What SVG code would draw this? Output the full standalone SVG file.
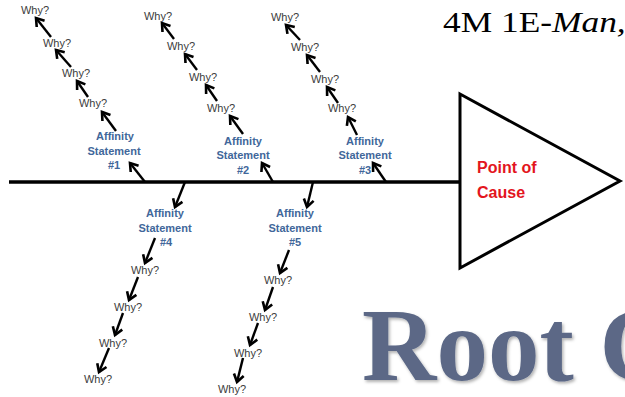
<svg xmlns="http://www.w3.org/2000/svg" width="625" height="397" viewBox="0 0 625 397">
  <defs>
    <marker id="head" markerUnits="userSpaceOnUse" markerWidth="14" markerHeight="14" viewBox="-10 -7 12 14" refX="0" refY="0" orient="auto">
      <path d="M-7.5,-5 L0,0 L-7.5,5" fill="none" stroke="#000" stroke-width="2.6" stroke-linejoin="miter"/>
    </marker>
    <filter id="soft" x="-5%" y="-10%" width="115%" height="130%">
      <feDropShadow dx="1.5" dy="2" stdDeviation="1.5" flood-color="#000" flood-opacity="0.3"/>
    </filter>
  </defs>
  <style>
    .why { font-family: "Liberation Sans", Arial, sans-serif; font-size: 11px; fill: #3c3c3c; text-anchor: middle; }
    .aff { font-family: "Liberation Sans", Arial, sans-serif; font-size: 11px; font-weight: bold; fill: #41679a; text-anchor: middle; }
    .arrow { stroke: #000; stroke-width: 2.4; fill: none; marker-end: url(#head); }
    .spine { stroke: #000; stroke-width: 3.5; fill: none; }
    .head-text { font-family: "Liberation Sans", Arial, sans-serif; font-size: 16px; font-weight: bold; fill: #e3151d; }
  </style>
  <rect width="625" height="397" fill="#fff"/>

  <!-- heading fragment -->
  <text transform="translate(443,32) scale(1.22,1)" font-family="'Liberation Serif', 'Times New Roman', serif" font-size="29" fill="#000">4M 1E-<tspan font-style="italic">Man,</tspan></text>

  <!-- large title -->
  <text x="362" y="380" font-family="'Liberation Serif', 'Times New Roman', serif" font-size="103" font-weight="bold" fill="#5b6886" filter="url(#soft)">Root C</text>

  <!-- connectors -->
  <g id="connectors">
    <line class="spine" x1="9" y1="182" x2="460" y2="182"/>
    <!-- branch 1 -->
    <line class="arrow" x1="145" y1="182" x2="130" y2="163"/>
    <line class="arrow" x1="116" y1="131" x2="102" y2="112"/>
    <line class="arrow" x1="88" y1="97" x2="77" y2="81"/>
    <line class="arrow" x1="71" y1="67" x2="56" y2="50"/>
    <line class="arrow" x1="51" y1="37" x2="36" y2="18"/>
    <!-- branch 2 -->
    <line class="arrow" x1="273" y1="182" x2="262" y2="163"/>
    <line class="arrow" x1="243" y1="134" x2="230" y2="116"/>
    <line class="arrow" x1="217" y1="101" x2="206" y2="85"/>
    <line class="arrow" x1="197" y1="70" x2="185" y2="54"/>
    <line class="arrow" x1="174" y1="39" x2="162" y2="23"/>
    <!-- branch 3 -->
    <line class="arrow" x1="386" y1="182" x2="373" y2="163"/>
    <line class="arrow" x1="357" y1="135" x2="348" y2="117"/>
    <line class="arrow" x1="338" y1="103" x2="327" y2="87"/>
    <line class="arrow" x1="320" y1="72" x2="307" y2="55"/>
    <line class="arrow" x1="300" y1="40" x2="286" y2="25"/>
    <!-- branch 4 -->
    <line class="arrow" x1="185" y1="182" x2="175" y2="207"/>
    <line class="arrow" x1="155" y1="238" x2="145" y2="263"/>
    <line class="arrow" x1="138" y1="277" x2="129" y2="300"/>
    <line class="arrow" x1="123" y1="313" x2="115" y2="335"/>
    <line class="arrow" x1="109" y1="348" x2="99" y2="372"/>
    <!-- branch 5 -->
    <line class="arrow" x1="313" y1="182" x2="307" y2="207"/>
    <line class="arrow" x1="289" y1="250" x2="280" y2="273"/>
    <line class="arrow" x1="273" y1="287" x2="265" y2="310"/>
    <line class="arrow" x1="258" y1="323" x2="250" y2="345"/>
    <line class="arrow" x1="243" y1="358" x2="237" y2="382"/>
  </g>

  <!-- effect head -->
  <g id="point-of-cause">
    <polygon points="460,94 620,181 460,268" fill="#fff" stroke="#000" stroke-width="3" stroke-linejoin="miter"/>
    <text class="head-text" x="477" y="173">Point of</text>
    <text class="head-text" x="477" y="198">Cause</text>
  </g>

  <g id="affinity-1">
    <text class="aff" x="115" y="140">Affinity</text>
    <text class="aff" x="114" y="155">Statement</text>
    <text class="aff" x="114" y="169">#1</text>
  </g>
  <g id="why-1">
    <text class="why" x="35" y="14">Why?</text>
    <text class="why" x="57" y="47">Why?</text>
    <text class="why" x="76" y="77">Why?</text>
    <text class="why" x="93" y="107">Why?</text>
  </g>

  <g id="affinity-2">
    <text class="aff" x="243" y="145">Affinity</text>
    <text class="aff" x="243" y="159">Statement</text>
    <text class="aff" x="243" y="174">#2</text>
  </g>
  <g id="why-2">
    <text class="why" x="158" y="20">Why?</text>
    <text class="why" x="181" y="50">Why?</text>
    <text class="why" x="203" y="81">Why?</text>
    <text class="why" x="221" y="112">Why?</text>
  </g>

  <g id="affinity-3">
    <text class="aff" x="365" y="145">Affinity</text>
    <text class="aff" x="365" y="159">Statement</text>
    <text class="aff" x="365" y="174">#3</text>
  </g>
  <g id="why-3">
    <text class="why" x="285" y="21">Why?</text>
    <text class="why" x="305" y="51">Why?</text>
    <text class="why" x="325" y="83">Why?</text>
    <text class="why" x="342" y="112">Why?</text>
  </g>

  <g id="affinity-4">
    <text class="aff" x="165" y="217">Affinity</text>
    <text class="aff" x="165" y="232">Statement</text>
    <text class="aff" x="166" y="246">#4</text>
  </g>
  <g id="why-4">
    <text class="why" x="145" y="274">Why?</text>
    <text class="why" x="128" y="311">Why?</text>
    <text class="why" x="113" y="347">Why?</text>
    <text class="why" x="98" y="383">Why?</text>
  </g>

  <g id="affinity-5">
    <text class="aff" x="295" y="217">Affinity</text>
    <text class="aff" x="295" y="232">Statement</text>
    <text class="aff" x="295" y="246">#5</text>
  </g>
  <g id="why-5">
    <text class="why" x="278" y="284">Why?</text>
    <text class="why" x="263" y="321">Why?</text>
    <text class="why" x="248" y="357">Why?</text>
    <text class="why" x="232" y="393">Why?</text>
  </g>
</svg>
